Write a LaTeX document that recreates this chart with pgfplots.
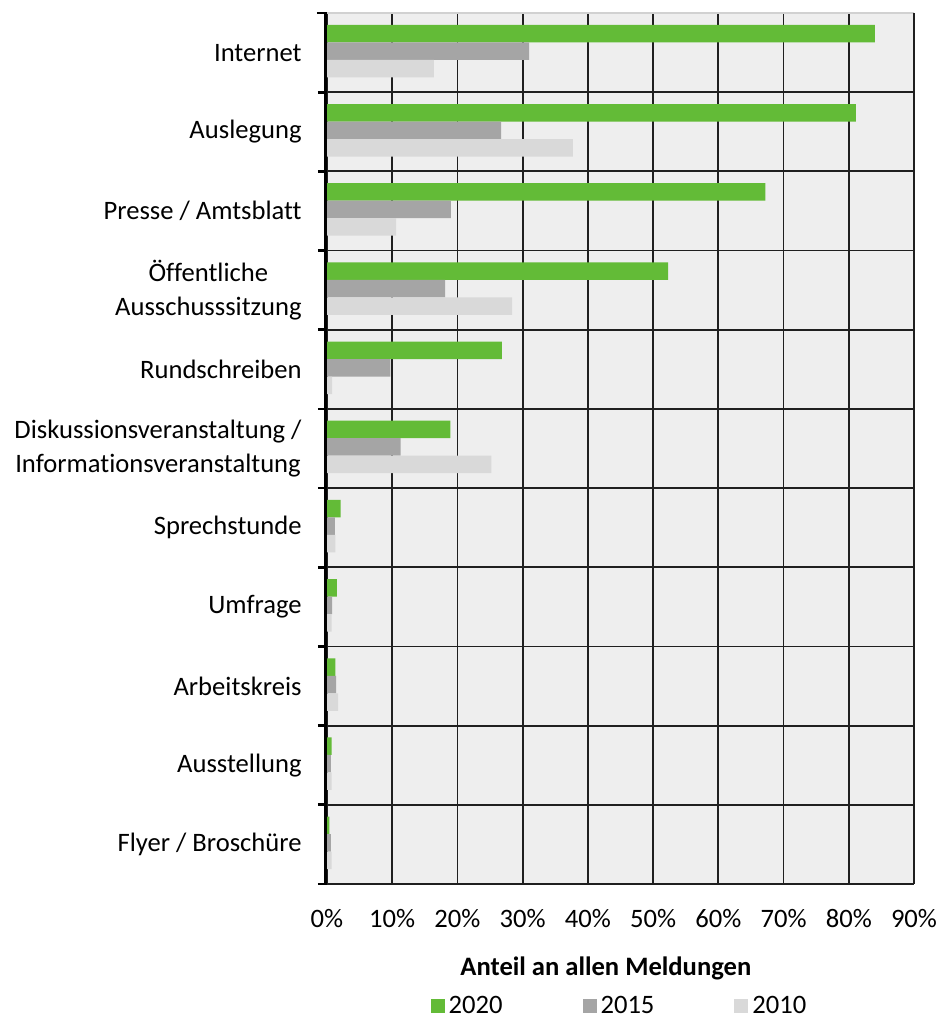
\documentclass[border=0pt]{standalone}
\usepackage{pgfplots}
\pgfplotsset{compat=1.18}
\usepackage{fontspec}
\setmainfont{Carlito}[Ligatures={NoCommon}]
\definecolor{cgreen}{HTML}{63BB37}
\definecolor{cdark}{HTML}{A5A5A5}
\definecolor{clight}{HTML}{D9D9D9}
\definecolor{cbg}{HTML}{EEEEEE}
\begin{document}
\begin{tikzpicture}
\fontsize{13.3bp}{17bp}\selectfont
\begin{axis}[
  name=ax,
  scale only axis,
  width=293.5bp, height=435.5bp,
  xbar, bar width=8.75bp,
  xmin=0, xmax=90,
  ymin=-0.5, ymax=10.5,
  xtick={0,10,...,90},
  xticklabel={\pgfmathprintnumber{\tick}\%},
  /pgf/number format/assume math mode=true,
  xtick style={draw=none},
  xticklabel style={font=\fontsize{13.3bp}{16bp}\selectfont, yshift=-8bp},
  ytick={0,...,10},
  yticklabels={Flyer / Broschüre, Ausstellung, Arbeitskreis, Umfrage, Sprechstunde,
    {Diskussionsveranstaltung /\\Informationsveranstaltung}, Rundschreiben,
    {Öffentliche\\Ausschusssitzung}, Presse / Amtsblatt, Auslegung, Internet},
  yticklabel style={align=center, font=\fontsize{13.3bp}{17bp}\selectfont, inner sep=0pt, xshift=-12.5bp},
  tick align=outside,
  major tick length=0pt,
  minor ytick={-0.5,0.5,...,9.5},
  minor tick length=4.5bp,
  minor y tick style={black, line width=1.4bp},
  ytick pos=left,
  xmajorgrids, yminorgrids,
  major grid style={black!88, line width=0.9bp},
  minor grid style={black!88, line width=0.9bp},
  axis line style={draw=none},
  axis background/.style={fill=cbg},
  xlabel={\bfseries Anteil an allen Meldungen},
  xlabel style={at={(rel axis cs:0.475,0)}, anchor=center, yshift=-42bp, font=\fontsize{13.3bp}{16bp}\selectfont},
  legend columns=3,
  legend style={at={(rel axis cs:0.5,0)}, anchor=center, yshift=-61.5bp, draw=none, fill=none,
    font=\fontsize{13.3bp}{16bp}\selectfont,
    /tikz/every even column/.append style={column sep=38bp}},
  legend image code/.code={\fill[#1] (0bp,-3bp) rectangle (7bp,4bp);},
  clip=false,
]
\addplot[fill=cgreen, draw=none, bar shift=9.5bp] coordinates {
  (0.35,0) (0.7,1) (1.3,2) (1.5,3) (2.1,4) (18.9,5) (26.8,6) (52.3,7) (67.2,8) (81.1,9) (84.0,10)};
\addplot[fill=cdark, draw=none, bar shift=0.75bp] coordinates {
  (0.6,0) (0.6,1) (1.4,2) (0.8,3) (1.2,4) (11.3,5) (9.7,6) (18.1,7) (19.0,8) (26.7,9) (31.0,10)};
\addplot[fill=clight, draw=none, bar shift=-8bp] coordinates {
  (0.7,0) (0.7,1) (1.7,2) (0.7,3) (1.3,4) (25.2,5) (0.8,6) (28.4,7) (10.6,8) (37.7,9) (16.4,10)};
\legend{2020, 2015, 2010}
\coordinate (SW) at (rel axis cs:0,0);
\coordinate (NE) at (rel axis cs:1,1);
\coordinate (NW) at (rel axis cs:0,1);
\coordinate (SE) at (rel axis cs:1,0);
\end{axis}
\draw[black!18, line width=0.8bp] (NW) -- (NE);
\draw[black!88, line width=0.9bp] (SE) -- (NE);
\draw[black, line width=1.5bp] ([xshift=-0.6bp]SW) -- ([xshift=-0.6bp,yshift=0.5bp]NW);
\draw[black, line width=1.4bp] ([xshift=-5bp]NW) -- (NW);
\pgfresetboundingbox
\path ([xshift=-163.5bp,yshift=-68bp]SW) rectangle ([xshift=13.5bp,yshift=6.5bp]NE);
\end{tikzpicture}
\end{document}
